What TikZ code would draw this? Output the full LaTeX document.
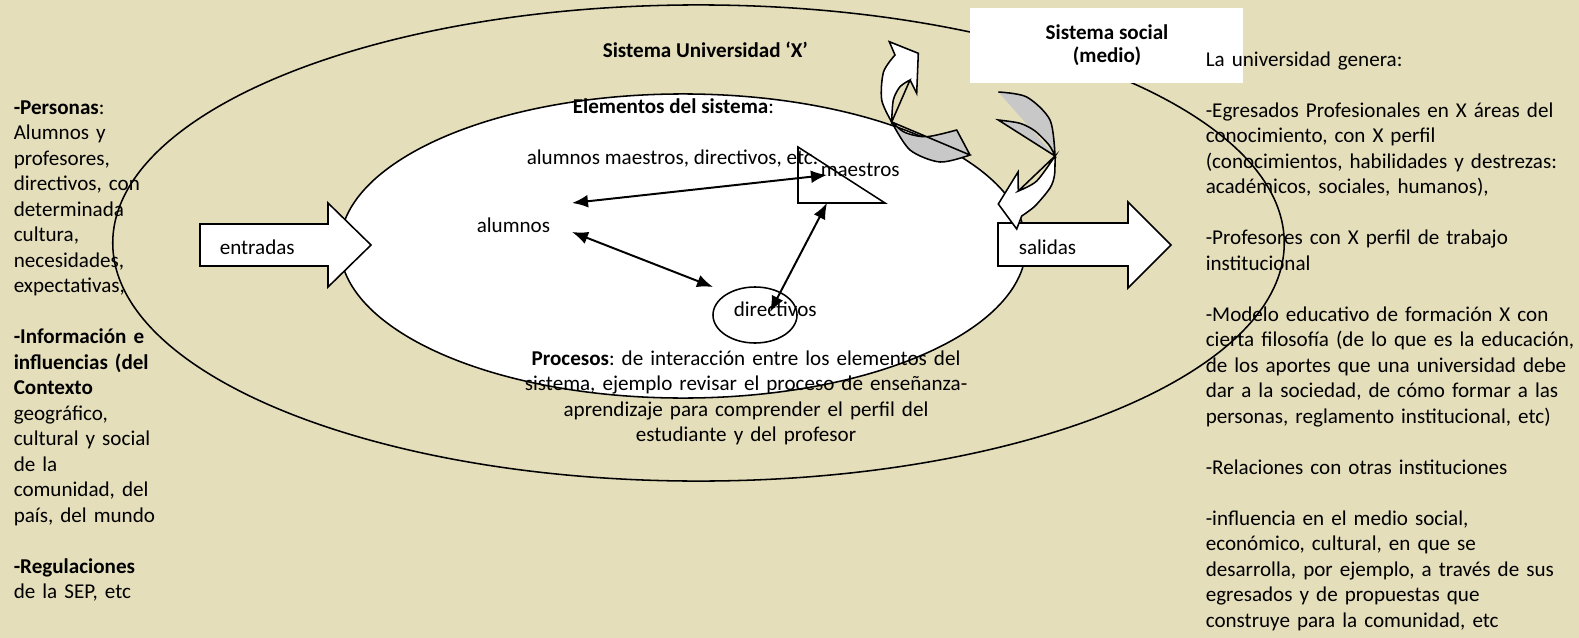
\documentclass[tikz,border=0pt]{standalone}
\usepackage{fontspec}
\setmainfont{Carlito}
\usetikzlibrary{arrows.meta,positioning}
\definecolor{parch}{RGB}{228,222,187}
\definecolor{fold}{RGB}{200,200,200}

\begin{document}
\begin{tikzpicture}[x=0.025cm,y=-0.025cm,>={Latex[length=4mm,width=3.2mm]},line width=1.1pt,
    txt/.style={font=\fontsize{15}{18.15}\selectfont\frenchspacing,inner sep=0pt},
    shape box/.style={draw,fill=white,line join=miter},
    link/.style={<->,line width=1.4pt}]

                \fill[parch] (0,0) rectangle (1579,638);
                \useasboundingbox (0,0) rectangle (1579,638);

                % sistema y subsistema
                \draw (698.5,243) ellipse [x radius=14.64cm, y radius=5.95cm];
                \draw[shape box] (683,246) ellipse [x radius=8.575cm, y radius=3.8cm];

                % elementos
                \draw (798,147) -- (798,203) -- (885,203) -- cycle;
                \draw (755,315) ellipse [x radius=1.05cm, y radius=0.7cm];

                \node[txt, anchor=base west] (elem) at (572,113) {\textbf{Elementos del sistema}:};
                \node[txt, anchor=base west] (lista) at (526,164) {alumnos maestros, directivos, etc.};
                \node[txt, anchor=base west] (maes) at (820,176) {maestros};
                \node[txt, anchor=base west] (alum) at (476,232) {alumnos};
                \node[txt, anchor=base west] (dire) at (733,316) {directivos};

                \coordinate (alumA) at (572,203);
                \coordinate (alumB) at (572,232);
                \coordinate (maesA) at (827,175);
                \coordinate (maesB) at (827,203);
                \coordinate (direA) at (713,287);
                \coordinate (direB) at (770,312);

                \draw[link] (alumA) to (maesA);
                \draw[link] (alumB) to (direA);
                \draw[link] (maesB) to (direB);

                % entradas y salidas
                \draw[shape box] (200,224) -- (328,224) -- (328,203) -- (371,245) -- (328,287) -- (328,266) -- (200,266) -- cycle;
                \draw[shape box] (998,223) -- (1128,223) -- (1128,202) -- (1171,245) -- (1128,288) -- (1128,266) -- (998,266) -- cycle;
                \node[txt, anchor=base west] (entr) at (219,254) {entradas};
                \node[txt, anchor=base west] (sali) at (1018,254) {salidas};

                % medio
                \fill[white] (970,8) rectangle (1243,83);
                \node[txt, anchor=base] (soc) at (1107,39) {\textbf{Sistema social}};
                \node[txt, anchor=base] (med) at (1107,62) {\textbf{(medio)}};

                % flechas curvas
                \filldraw[fill=white] (891.7,122) plot[smooth] coordinates {(891.7,122) (881.7,100) (883.5,72) (895,55)}
                    -- (889.3,41.7) -- (918.3,53.3) -- (916.7,93.3) -- (910,80)
                    plot[smooth] coordinates {(910,80) (900,86.7) (893.3,100) (891.7,122)} -- cycle;
                \filldraw[fill=fold] (891.7,122) plot[smooth] coordinates {(891.7,122) (905,132.5) (926.7,136.7) (956.7,130)}
                    -- (970,155)
                    plot[smooth] coordinates {(970,155) (940,162) (910,150) (891.7,122)} -- cycle;
                \filldraw[fill=fold] (998.3,92) plot[smooth] coordinates {(998.3,92) (1026.7,97) (1050,120) (1055,156)}
                    plot[smooth] coordinates {(1055,156) (1049,145) (1035,131) (1020,123.3) (998.3,120)} -- cycle;
                \filldraw[fill=white] (1055,156) plot[smooth] coordinates {(1055,156) (1054.5,175) (1050,188) (1035,206) (1021.7,216)}
                    -- (1016.7,229) -- (998.3,204) -- (1018,172) -- (1018.3,191)
                    plot[smooth] coordinates {(1018.3,191) (1036.7,181) (1055,156)} -- cycle;

                % textos
                \node[txt, anchor=base west] (tit) at (602,57) {\textbf{Sistema Universidad ‘X’}};
                \node[txt, anchor=base, text width=11.8cm, align=center] (proc) at (746,365)
                    {\textbf{Procesos}: de interacción entre los elementos del\\ sistema, ejemplo revisar el proceso de enseñanza-\\ aprendizaje para comprender el perfil del\\ estudiante y del profesor};
                \node[txt, anchor=base west, text width=4cm, align=left] (entrada) at (13,114)
                    {\textbf{-Personas}:\\ Alumnos y\\ profesores,\\ directivos, con\\ determinada\\ cultura,\\ necesidades,\\ expectativas,\par\vspace{\baselineskip}
                     \textbf{-Información e}\\ \textbf{influencias (del}\\ \textbf{Contexto}\\ geográfico,\\ cultural y social\\ de la\\ comunidad, del\\ país, del mundo\par\vspace{\baselineskip}
                     \textbf{-Regulaciones}\\ de la SEP, etc};
                \node[txt, anchor=base west, text width=10cm, align=left] (genera) at (1205,66)
                    {La universidad genera:\par\vspace{\baselineskip}
                     -Egresados Profesionales en X áreas del\\ conocimiento, con X perfil\\ (conocimientos, habilidades y destrezas:\\ académicos, sociales, humanos),\par\vspace{\baselineskip}
                     -Profesores con X perfil de trabajo\\ institucional\par\vspace{\baselineskip}
                     -Modelo educativo de formación X con\\ cierta filosofía (de lo que es la educación,\\ de los aportes que una universidad debe\\ dar a la sociedad, de cómo formar a las\\ personas, reglamento institucional, etc)\par\vspace{\baselineskip}
                     -Relaciones con otras instituciones\par\vspace{\baselineskip}
                     -influencia en el medio social,\\ económico, cultural, en que se\\ desarrolla, por ejemplo, a través de sus\\ egresados y de propuestas que\\ construye para la comunidad, etc};

                ;
            \end{tikzpicture}
\end{document}
